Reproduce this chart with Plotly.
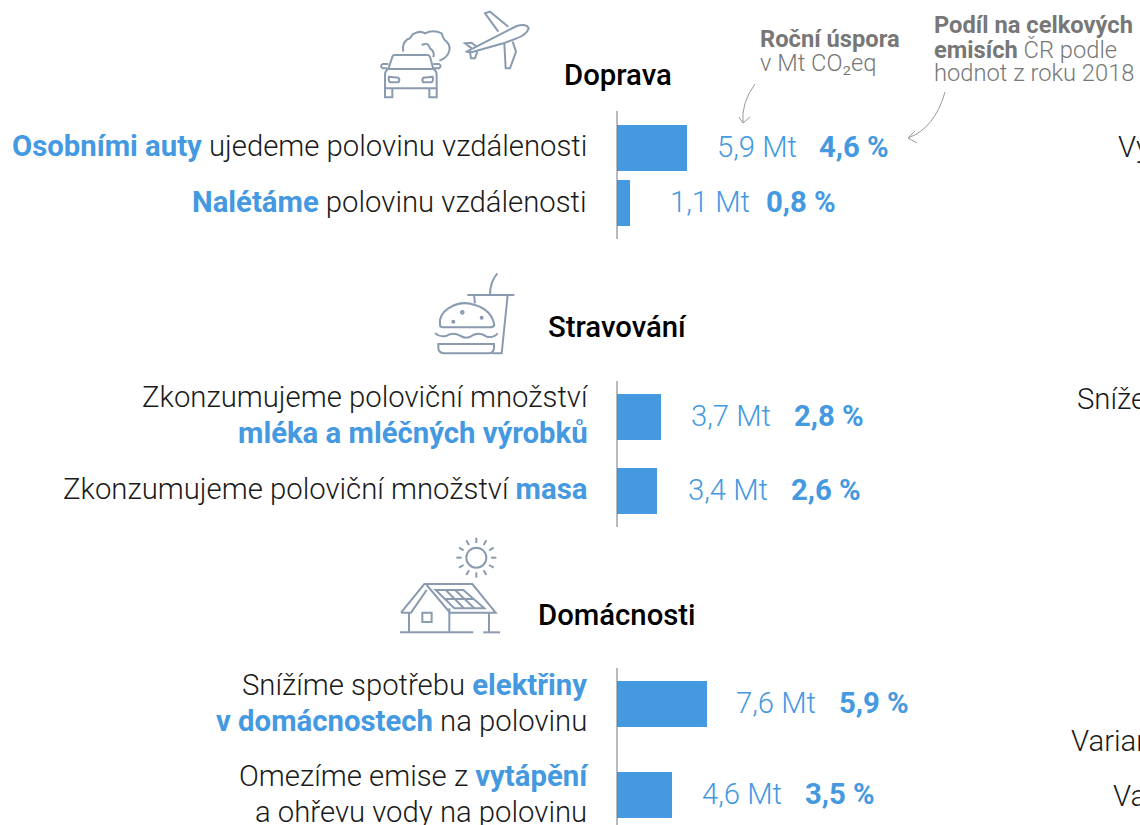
import re, math
import plotly.graph_objects as go

# ---- data ----
categories = ["Osobními auty", "Nalétáme", "mléka a mléčných výrobků", "masa", "elektřiny", "vytápění"]
savings_mt = [5.9, 1.1, 3.7, 3.4, 7.6, 4.6]
share_pct = [4.6, 0.8, 2.8, 2.6, 5.9, 3.5]
groups = ["Doprava", "Stravování", "Domácnosti"]

# ---- layout constants (pixels) ----
W, H = 1140, 825
BLUE = "#4499E0"; ICON = "#8A9BB0"; GREY = "#777777"; INK = "#1A1A1A"
FONT = "Roboto"
BIG = 29.3
ROW_Y = [148, 203, 417, 491, 704, 795]
VALUE_X = [716, 669, 690, 687, 735, 701]
SHARE_X = [818, 765, 793, 790, 838, 804]
X0, PX_PER_MT = 617, 11.85

def num(v):
    return f"{v:.1f}".replace(".", ",")
def b(t):
    return f'<b style="color:{BLUE}"><span style="color:{BLUE}">{t}</span></b>'

fig = go.Figure()
fig.add_bar(x=savings_mt, y=ROW_Y, orientation="h", width=46, marker=dict(color=BLUE, line_width=0),
            hoverinfo="skip", xaxis="x", yaxis="y", customdata=categories)
fig.add_scatter(x=[0], y=[0], mode="markers", marker=dict(opacity=0), xaxis="x2", yaxis="y2", hoverinfo="skip")

anns = []
def text(x, y, s, anchor="left", size=BIG, color=INK, weight=300):
    anns.append(dict(x=x, y=y, xref="x2", yref="y2", text=s, showarrow=False, xanchor=anchor, yanchor="middle",
                     align=anchor, borderpad=0, font=dict(family=FONT, size=size, color=color, weight=weight)))

R = 588
text(R, 146, f"{b(categories[0])} ujedeme polovinu vzdálenosti", "right")
text(R, 202, f"{b(categories[1])} polovinu vzdálenosti", "right")
text(R + 2, 397, "Zkonzumujeme poloviční množství", "right")
text(R + 1, 433, b(categories[2]), "right")
text(R, 489, f"Zkonzumujeme poloviční množství {b(categories[3])}", "right")
text(R, 685, f"Snížíme spotřebu {b(categories[4])}", "right")
text(R, 721, f"{b('v domácnostech')} na polovinu", "right")
text(R + 2, 776, f"Omezíme emise z {b(categories[5])}", "right")
text(R, 812, "a ohřevu vody na polovinu", "right")

for i in range(6):
    text(VALUE_X[i], ROW_Y[i] - 1, f"{num(savings_mt[i])} Mt", color=BLUE)
    text(SHARE_X[i], ROW_Y[i] - 1, f"<b>{num(share_pct[i])} %</b>", color=BLUE)

text(618, 75, groups[0], "center", color="#000000", weight=500)
text(617, 327, groups[1], "center", color="#000000", weight=500)
text(617, 615, groups[2], "center", color="#000000", weight=500)

S = 23.7
text(759, 39, "<b>Roční úspora</b>", size=S, color=GREY)
text(759, 63, "v Mt CO₂eq", size=S, color=GREY)
text(933, 25, "<b>Podíl na celkových</b>", size=S, color=GREY)
text(933, 49, "<b>emisích</b> ČR podle", size=S, color=GREY)
text(933, 73, "hodnot z roku 2018", size=S, color=GREY)

text(1117, 147, "Vy")
text(1076, 399, "Sníže")
text(1070, 741, "Varian")
text(1112, 796, "Va")

# ---- icons ----
def tr(path, ox, oy, k=1/3):
    nums = iter(re.findall(r"[A-Z]|-?\d+\.?\d*", path))
    out = []
    pair = []
    for t in nums:
        if t.isalpha():
            out.append(t)
        else:
            pair.append(float(t))
            if len(pair) == 2:
                out.append(f"{ox + pair[0]*k:.2f},{oy + pair[1]*k:.2f}")
                pair = []
    return " ".join(out)

def circle(cx, cy, r):
    c = 0.5523 * r
    return (f"M{cx-r},{cy} C{cx-r},{cy-c} {cx-c},{cy-r} {cx},{cy-r} C{cx+c},{cy-r} {cx+r},{cy-c} {cx+r},{cy} "
            f"C{cx+r},{cy+c} {cx+c},{cy+r} {cx},{cy+r} C{cx-c},{cy+r} {cx-r},{cy+c} {cx-r},{cy} Z")

car_plane = [
    "M45,265 L45,225 Q45,212 55,207 L68,168 Q70,165 75,165 L172,165 Q177,165 180,170 L190,207 Q200,212 200,225 L200,265 Z",
    "M55,207 L190,207",
    "M55,192 L38,192 Q28,198 38,205 L52,205", "M190,192 L207,192 Q217,198 207,205 L192,205",
    "M57,230 L85,233 Q91,240 85,247 L60,247 Q54,240 57,230 Z", "M188,230 L160,233 Q154,240 160,247 L185,247 Q191,240 188,230 Z",
    "M45,265 L45,292 L67,292 L67,265", "M178,265 L178,292 L200,292 L200,265",
    "M100,155 Q95,130 112,118 Q120,118 128,103 Q150,90 165,100 Q190,88 215,100 Q220,120 230,125 Q245,140 235,160 Q228,175 208,182",
    "M155,135 Q175,125 180,145 Q195,155 190,172",
    "M290,155 L440,78 Q470,70 476,85 Q470,105 440,115 L400,130 L310,155 Q295,158 290,155 Z",
    "M385,95 L345,40 L360,35 L415,80", "M403,130 L407,205 L420,205 L438,155 L428,125",
    "M305,145 L285,130 L305,128 L320,140", "M300,157 L303,175 L315,175 L322,155",
]
burger = [
    "M45,180 Q40,150 70,130 Q110,105 150,120 Q200,135 208,180 Q205,187 195,187 L55,187 Q45,187 45,180 Z",
    circle(112, 142, 4), circle(85, 170, 3), circle(170, 158, 3),
    "M30,205 Q45,218 65,212 Q85,200 105,212 Q125,225 145,210 Q165,200 185,215 Q205,220 218,205",
    "M40,237 L207,237 L207,250 Q205,265 190,265 L60,265 Q42,265 40,250 Z",
    "M127,90 L268,90", "M147,90 L150,115", "M248,90 L230,265 L200,265", "M195,90 Q195,50 217,25",
]
house = [
    "M18,248 L88,162 L232,162 L302,248 L165,248 L95,165", "M18,248 L48,248 L95,180",
    "M42,248 L42,307", "M163,235 L163,307", "M282,248 L282,307",
    "M15,307 L235,307", "M265,307 L315,307", "M82,248 L110,248 L110,276 L82,276 Z",
    "M122,180 L205,180 L268,235 L178,235 Z", "M148,207 L235,207", "M152,180 L207,235", "M180,180 L238,235",
    circle(244, 83, 30),
]
for a in range(12):
    t = math.radians(a * 30)
    house.append(f"M{244 + 44*math.sin(t):.1f},{83 - 44*math.cos(t):.1f} L{244 + 60*math.sin(t):.1f},{83 - 60*math.cos(t):.1f}")

shapes = []
def stroke(path, color=ICON, w=2):
    shapes.append(dict(type="path", path=path, xref="x2", yref="y2", line=dict(color=color, width=w), layer="above"))
for p in car_plane: stroke(tr(p, 370, 0))
for p in burger: stroke(tr(p, 425, 265))
for p in house: stroke(tr(p, 395, 530))

# axis rules
for y0, y1 in [(111, 239), (381, 527), (668, 825)]:
    stroke(f"M{X0},{y0} L{X0},{y1}", "#777777", 1)
# callout arrows
ARW = "#999999"
stroke("M755,84 Q741,103 743,123", ARW, 1)
stroke("M739,117 L743,123 L750,117", ARW, 1)
stroke("M945,92 Q935,128 908,138", ARW, 1)
stroke("M915,131 L908,138 L917,143", ARW, 1)

fig.update_layout(
    width=W, height=H, margin=dict(l=0, r=0, t=0, b=0), paper_bgcolor="#ffffff", plot_bgcolor="rgba(0,0,0,0)",
    showlegend=False, annotations=anns, shapes=shapes, bargap=0,
    xaxis=dict(range=[-X0 / PX_PER_MT, (W - X0) / PX_PER_MT], visible=False, fixedrange=True),
    yaxis=dict(range=[H, 0], visible=False, fixedrange=True),
    xaxis2=dict(range=[0, W], visible=False, overlaying="x", fixedrange=True),
    yaxis2=dict(range=[H, 0], visible=False, overlaying="y", fixedrange=True),
)
fig.write_html("out.html", config=dict(displayModeBar=False),
               post_script="document.body.style.margin='0';document.body.style.overflow='hidden';")
